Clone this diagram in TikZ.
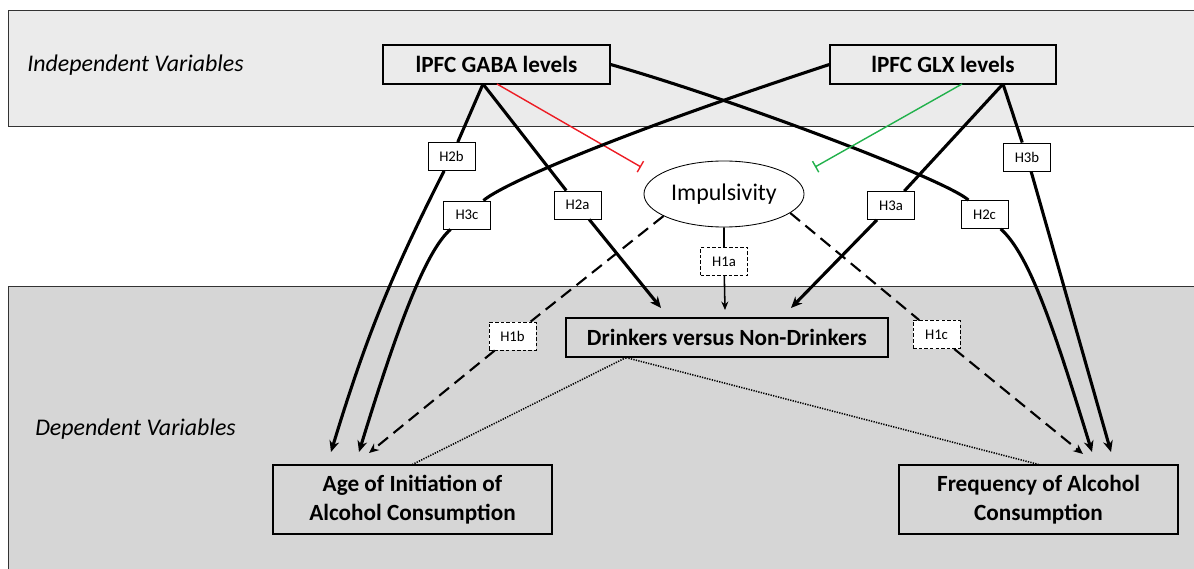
\documentclass[tikz,border=0pt]{standalone}
\usepackage{fontspec}
\setmainfont{Carlito}
\usetikzlibrary{shapes.geometric,arrows.meta,calc}

\definecolor{bandtop}{RGB}{235,235,235}
\definecolor{bandbot}{RGB}{214,214,214}
\definecolor{inhred}{RGB}{237,28,36}
\definecolor{inhgreen}{RGB}{34,177,76}

\tikzset{
  band/.style={draw=black!80,line width=0.6pt},
  bandtext/.style={anchor=west,inner sep=0pt,font=\fontsize{17}{20}\selectfont\itshape},
  var/.style={draw,line width=0.8pt,inner sep=2pt,align=center,font=\fontsize{16.5}{20.5}\selectfont\bfseries},
  hyp/.style={draw,fill=white,line width=0.6pt,minimum width=1.175cm,minimum height=0.7cm,inner sep=1pt,font=\fontsize{10.5}{12}\selectfont},
  hypd/.style={hyp,dash pattern=on 2.5pt off 1.5pt},
  eff/.style={line width=2.2pt,-{Stealth[length=8pt,width=7pt]}},
  effd/.style={line width=1.5pt,dash pattern=on 9pt off 5pt,-{Stealth[length=7pt,width=6pt]}},
  effi/.style={line width=1.1pt,-{Stealth[length=6pt,width=5pt]}},
  inhib/.style={line width=1pt,-{Bar[width=9pt,line width=1pt]}},
  assoc/.style={line width=1.1pt,dash pattern=on 0.9pt off 0.9pt}
}

\begin{document}
\begin{tikzpicture}[x=0.025cm,y=-0.025cm]
\useasboundingbox (0,0) rectangle (1194,569);
\clip (0,0) rectangle (1194,569);

% bands
\draw[band,fill=bandtop] (8,10) rectangle (1210,126);
\draw[band,fill=bandbot] (8,286) rectangle (1210,590);
\node[bandtext] (indep) at (27,65) {Independent Variables};
\node[bandtext] (dep) at (35,429) {Dependent Variables};

% variables
\node[var,fill=bandtop,minimum width=5.675cm,minimum height=0.975cm] (gaba) at (496.5,64.5) {lPFC GABA levels};
\node[var,fill=bandtop,minimum width=5.65cm,minimum height=0.975cm] (glx) at (943,64.5) {lPFC GLX levels};
\node[ellipse,draw,fill=white,line width=0.6pt,minimum width=4cm,minimum height=1.65cm,inner sep=0pt,font=\fontsize{17}{20}\selectfont] (imp) at (724,194) {Impulsivity};
\node[var,fill=bandbot,minimum width=8.05cm,minimum height=0.975cm] (drink) at (727,337.5) {Drinkers versus Non-Drinkers};
\node[var,fill=bandbot,minimum width=6.975cm,minimum height=1.725cm] (age) at (412.5,499.5) {Age of Initiation of\\Alcohol Consumption};
\node[var,fill=bandbot,minimum width=6.975cm,minimum height=1.725cm] (freq) at (1038.5,499.5) {Frequency of Alcohol\\Consumption};

% hypotheses
\node[hyp] (h2b) at (451.5,156.5) {H2b};
\node[hyp] (h3c) at (467,215) {H3c};
\node[hyp] (h2a) at (577.5,205) {H2a};
\node[hyp] (h3a) at (891,205.5) {H3a};
\node[hyp] (h2c) at (984.5,214.5) {H2c};
\node[hyp] (h3b) at (1027,157) {H3b};
\node[hypd] (h1a) at (724,261.5) {H1a};
\node[hypd] (h1b) at (512.5,336) {H1b};
\node[hypd] (h1c) at (936.5,334.5) {H1c};

% line ends
\coordinate (gs) at (483,84);
\coordinate (gl) at (1003,84);
\coordinate (rs) at (497,84);
\coordinate (rb) at (641,167);
\coordinate (ns) at (962,84);
\coordinate (nb) at (815,167);
\coordinate (a1) at (331,452);
\coordinate (a2) at (359,452);
\coordinate (a3) at (369,453);
\coordinate (f1) at (1083,454);
\coordinate (f2) at (1092,452);
\coordinate (f3) at (1111,452);
\coordinate (d1) at (661,308);
\coordinate (d2) at (725,310);
\coordinate (d3) at (791,308);
\coordinate (dd) at ($(drink.south)+(-101,0)$);

% GABA
\draw[eff] (gs) -- (h2b) to[bend right=5] (a1);
\draw[eff] (gs) -- (h2a) -- (d1);
\draw[eff] (gaba.east) .. controls (726,97) and (945,179) .. (h2c) .. controls (1030,255) and (1055,332) .. (f2);
\draw[inhib,inhred] (rs) -- (rb);

% GLX
\draw[eff] (gl) -- (h3a) -- (d3);
\draw[eff] (gl) -- (h3b) -- (f3);
\draw[eff] (glx.west) .. controls (600,140) and (500,186) .. (h3c) .. controls (427,250) and (400,318) .. (a2);
\draw[inhib,inhgreen] (ns) -- (nb);

% impulsivity
\draw[effi] (imp) -- (h1a) -- (d2);
\draw[effd] (imp.200) -- (h1b) -- (a3);
\draw[effd] (imp.-16) -- (h1c) -- (f1);

% drinkers
\draw[assoc] (dd) -- (age.north);
\draw[assoc] (dd) -- (freq.north);
\end{tikzpicture}
\end{document}
